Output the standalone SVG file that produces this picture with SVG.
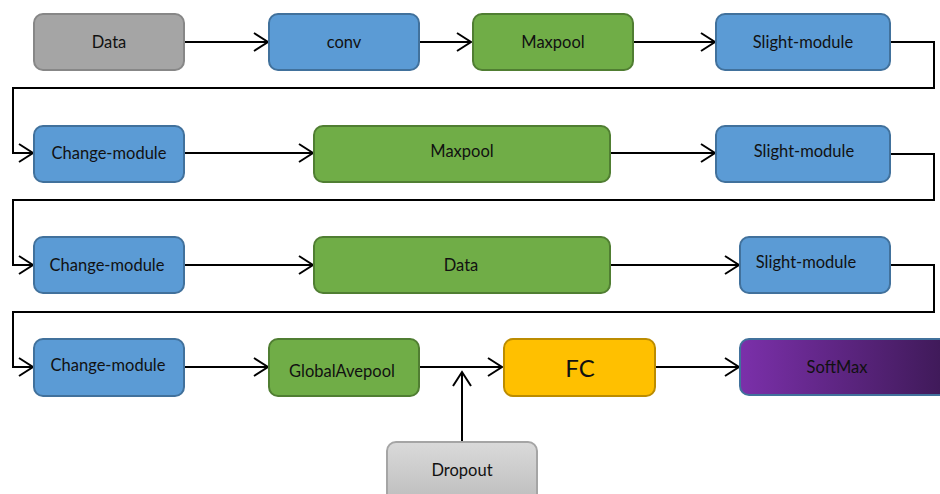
<svg xmlns="http://www.w3.org/2000/svg" width="940" height="494" viewBox="0 0 940 494">
<style>
  .box { stroke-width: 2; }
  .gray { fill: #A5A5A5; stroke: #878787; }
  .blue { fill: #5B9BD5; stroke: #41719C; }
  .green { fill: #70AD47; stroke: #507E32; }
  .yellow { fill: #FFC000; stroke: #BC8C00; }
  .purple { fill: url(#gPurple); stroke: #41719C; }
  .lgray { fill: url(#gGray); stroke: #A5A5A5; }
  .lbl { font-family: Lato, "Open Sans", "Liberation Sans", sans-serif; font-size: 16.5px; fill: #111; text-anchor: middle; dominant-baseline: central; }
  .big { font-size: 24px; }
  .conn { fill: none; stroke: #000; stroke-width: 2; marker-end: url(#arrow); }
</style>
<defs>
  <marker id="arrow" markerUnits="userSpaceOnUse" markerWidth="18" markerHeight="22" refX="15" refY="11" orient="auto">
    <path d="M1,2 L15,11 L1,20" fill="none" stroke="#000" stroke-width="2"/>
  </marker>
  <linearGradient id="gPurple" x1="0" y1="0" x2="1" y2="0">
    <stop offset="0" stop-color="#7B30AA"/>
    <stop offset="1" stop-color="#3A1852"/>
  </linearGradient>
  <linearGradient id="gGray" x1="0" y1="0" x2="0" y2="1">
    <stop offset="0" stop-color="#DADADA"/>
    <stop offset="1" stop-color="#BDBDBD"/>
  </linearGradient>
</defs>
<rect width="940" height="494" fill="#fff"/>

<g id="connectors">
  <path class="conn" d="M184,42 H268"/>
  <path class="conn" d="M419,42 H471"/>
  <path class="conn" d="M633,42 H715"/>
  <path class="conn" d="M890,42 H934 V88 H13 V153 H33"/>
  <path class="conn" d="M184,153 H313"/>
  <path class="conn" d="M610,153 H715"/>
  <path class="conn" d="M890,154 H934 V200 H13 V265 H33"/>
  <path class="conn" d="M184,265 H313"/>
  <path class="conn" d="M610,265 H739"/>
  <path class="conn" d="M890,265 H934 V312 H13 V367 H33"/>
  <path class="conn" d="M184,367 H268"/>
  <path class="conn" d="M419,367 H502"/>
  <path class="conn" d="M655,367 H739"/>
  <path class="conn" d="M462,442 V372"/>
</g>

<g id="n-data1"><rect class="box gray" x="34" y="14" width="150" height="56" rx="9"/><text class="lbl" x="109" y="42">Data</text></g>
<g id="n-conv"><rect class="box blue" x="269" y="14" width="150" height="56" rx="9"/><text class="lbl" x="344" y="42">conv</text></g>
<g id="n-maxpool1"><rect class="box green" x="473" y="14" width="160" height="56" rx="9"/><text class="lbl" x="553" y="42">Maxpool</text></g>
<g id="n-slight1"><rect class="box blue" x="716" y="14" width="174" height="56" rx="9"/><text class="lbl" x="803" y="42">Slight-module</text></g>

<g id="n-change1"><rect class="box blue" x="34" y="126" width="150" height="56" rx="9"/><text class="lbl" x="109" y="153">Change-module</text></g>
<g id="n-maxpool2"><rect class="box green" x="314" y="126" width="296" height="56" rx="9"/><text class="lbl" x="462" y="151">Maxpool</text></g>
<g id="n-slight2"><rect class="box blue" x="716" y="126" width="174" height="56" rx="9"/><text class="lbl" x="804" y="151">Slight-module</text></g>

<g id="n-change2"><rect class="box blue" x="34" y="237" width="150" height="56" rx="9"/><text class="lbl" x="107" y="265">Change-module</text></g>
<g id="n-data2"><rect class="box green" x="314" y="237" width="296" height="56" rx="9"/><text class="lbl" x="461" y="265">Data</text></g>
<g id="n-slight3"><rect class="box blue" x="740" y="237" width="150" height="56" rx="9"/><text class="lbl" x="806" y="262">Slight-module</text></g>

<g id="n-change3"><rect class="box blue" x="34" y="339" width="150" height="57" rx="9"/><text class="lbl" x="108" y="365">Change-module</text></g>
<g id="n-gap"><rect class="box green" x="269" y="339" width="150" height="57" rx="9"/><text class="lbl" x="342" y="371">GlobalAvepool</text></g>
<g id="n-fc"><rect class="box yellow" x="504" y="339" width="151" height="57" rx="9"/><text class="lbl big" x="580" y="367">FC</text></g>
<g id="n-softmax"><rect class="box purple" x="740" y="339" width="220" height="56" rx="9"/><text class="lbl" x="837" y="367">SoftMax</text></g>

<g id="n-dropout"><rect class="box lgray" x="387" y="442" width="150" height="60" rx="9"/><text class="lbl" x="462" y="470">Dropout</text></g>
</svg>
